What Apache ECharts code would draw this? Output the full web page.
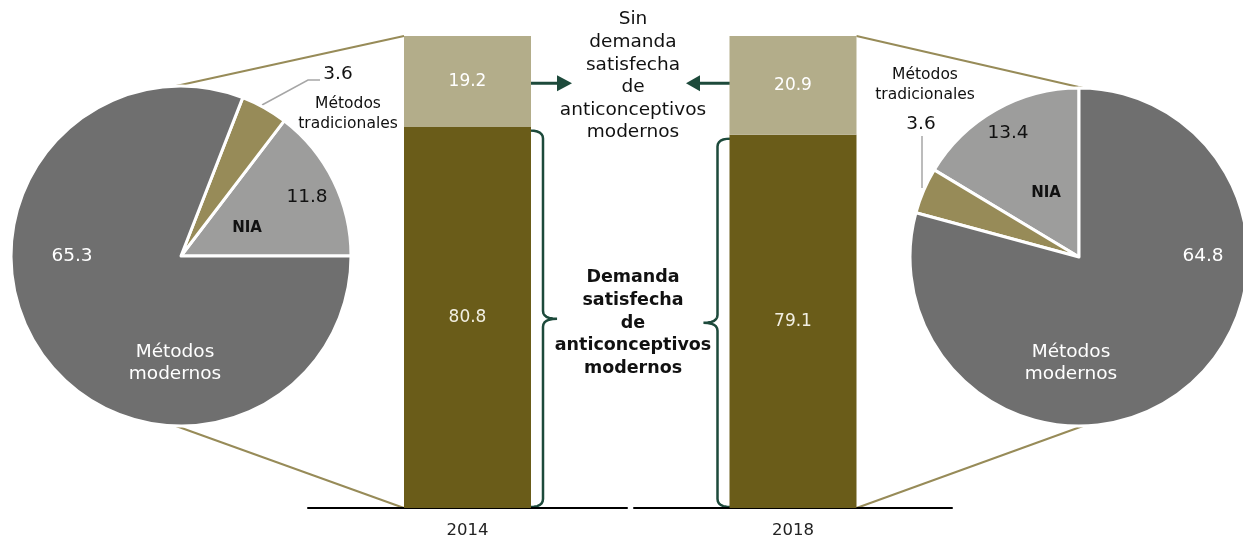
<!DOCTYPE html>
<html>
<head>
<meta charset="utf-8">
<script src="https://cdn.jsdelivr.net/npm/echarts@6/dist/echarts.min.js"></script>
<style>
  html, body { margin: 0; padding: 0; background: #fff; }
  #chart { width: 1243px; height: 541px; }
</style>
</head>
<body>
<div id="chart"></div>
<script>
// data
const years = ["2014", "2018"];
const satisfecha = [80.8, 79.1];
const sinSatisfacer = [19.2, 20.9];
const pieNames = ["NIA", "Métodos tradicionales", "Métodos modernos"];
const pie2014 = [11.8, 3.6, 65.3];
const pie2018 = [13.4, 3.6, 64.8];

const FONT = "DejaVu Sans";
const GREEN = "#1d4a3b";
const OLIVE = "#978b58";
const pieColors = ["#9d9d9c", OLIVE, "#6f6f6f"];
const BAR_W = 127;

const chart = echarts.init(document.getElementById("chart"));

const barSeries = (idx) => [
  {
    type: "bar",
    xAxisIndex: idx,
    yAxisIndex: idx,
    stack: "s" + idx,
    barWidth: BAR_W,
    data: [satisfecha[idx]],
    itemStyle: { color: "#6a5c19" },
    label: {
      show: true,
      position: "inside",
      color: "#f2efe2",
      fontFamily: FONT,
      fontSize: 17,
    },
  },
  {
    type: "bar",
    xAxisIndex: idx,
    yAxisIndex: idx,
    stack: "s" + idx,
    barWidth: BAR_W,
    data: [sinSatisfacer[idx]],
    itemStyle: { color: "#b3ad8a" },
    label: {
      show: true,
      position: "inside",
      color: "#ffffff",
      fontFamily: FONT,
      fontSize: 17,
    },
  },
];

const pieSeries = (values, center, radius, startAngle) => ({
  type: "pie",
  center: center,
  radius: radius,
  startAngle: startAngle,
  clockwise: false,
  silent: true,
  label: { show: false },
  labelLine: { show: false },
  itemStyle: { borderColor: "#fff", borderWidth: 3 },
  data: values.map((v, i) => ({
    name: pieNames[i],
    value: v,
    itemStyle: { color: pieColors[i] },
  })),
});

const axisX = (idx) => ({
  type: "category",
  gridIndex: idx,
  data: [years[idx]],
  axisTick: { show: false },
  axisLine: { lineStyle: { color: "#000", width: 2 } },
  axisLabel: { color: "#222", fontFamily: FONT, fontSize: 16.5, margin: 14 },
});
const axisY = (idx) => ({
  type: "value",
  gridIndex: idx,
  min: 0,
  max: 100,
  show: false,
});

chart.setOption({
  animation: false,
  grid: [
    { left: 308, right: 616, top: 36, bottom: 33 },
    { left: 634, right: 291, top: 36, bottom: 33 },
  ],
  xAxis: [axisX(0), axisX(1)],
  yAxis: [axisY(0), axisY(1)],
  series: [
    ...barSeries(0),
    ...barSeries(1),
    pieSeries(pie2014, [181, 256], 170, 0),
    pieSeries(pie2018, [1079, 257], 169, 90),
  ],
});

// decorations computed from the chart's own scales
const px = (g, v) => chart.convertToPixel({ gridIndex: g }, [0, v]);
const graphics = [];

// connector lines from pies to bars
const b0top = px(0, 100), b0bot = px(0, 0);
const b1top = px(1, 100), b1bot = px(1, 0);
const lineStyle = { stroke: OLIVE, lineWidth: 2 };
[
  [[176, 256 - 170], [b0top[0] - BAR_W / 2, b0top[1]]],
  [[176, 256 + 170], [b0bot[0] - BAR_W / 2, b0bot[1]]],
  [[b1top[0] + BAR_W / 2, b1top[1]], [1083, 257 - 169]],
  [[b1bot[0] + BAR_W / 2, b1bot[1]], [1083, 257 + 169]],
].forEach(([a, b]) => {
  graphics.push({
    type: "line",
    z: -1,
    shape: { x1: a[0], y1: a[1], x2: b[0], y2: b[1] },
    style: lineStyle,
  });
});

// braces, built as polylines with rounded corners
const quad = (p0, c, p1, n) => {
  const pts = [];
  for (let i = 1; i <= n; i++) {
    const t = i / n;
    pts.push([
      (1 - t) * (1 - t) * p0[0] + 2 * (1 - t) * t * c[0] + t * t * p1[0],
      (1 - t) * (1 - t) * p0[1] + 2 * (1 - t) * t * c[1] + t * t * p1[1],
    ]);
  }
  return pts;
};
const brace = (x0, x1, x2, yTop, yBot) => {
  const r = 8;
  const yMid = (yTop + yBot) / 2;
  let pts = [[x0, yTop]];
  pts = pts.concat(quad([x0, yTop], [x1, yTop], [x1, yTop + r], 6));
  pts.push([x1, yMid - r]);
  pts = pts.concat(quad([x1, yMid - r], [x1, yMid], [x2, yMid], 6));
  pts = pts.concat(quad([x2, yMid], [x1, yMid], [x1, yMid + r], 6));
  pts.push([x1, yBot - r]);
  pts = pts.concat(quad([x1, yBot - r], [x1, yBot], [x0, yBot], 6));
  return {
    type: "polyline",
    shape: { points: pts },
    style: { stroke: GREEN, lineWidth: 2.5, fill: null },
  };
};
const s0 = px(0, satisfecha[0]), s1 = px(1, satisfecha[1]);
const r0 = b0bot[0] + BAR_W / 2, l1 = b1bot[0] - BAR_W / 2;
graphics.push(brace(r0 - 1, r0 + 12, r0 + 26, s0[1] + 4, b0bot[1] - 1));
graphics.push(brace(l1 + 1, l1 - 12, l1 - 26, s1[1] + 4, b1bot[1] - 1));

// arrows toward the "Sin demanda" text
const u0 = px(0, satisfecha[0] + sinSatisfacer[0] / 2);
const u1 = px(1, satisfecha[1] + sinSatisfacer[1] / 2);
const ay = (u0[1] + u1[1]) / 2;
graphics.push(
  { type: "line", shape: { x1: r0 - 4, y1: ay, x2: 560, y2: ay }, style: { stroke: GREEN, lineWidth: 3 } },
  { type: "polygon", shape: { points: [[557, ay - 8], [572, ay], [557, ay + 8]] }, style: { fill: GREEN } },
  { type: "line", shape: { x1: l1 + 2, y1: ay, x2: 697, y2: ay }, style: { stroke: GREEN, lineWidth: 3 } },
  { type: "polygon", shape: { points: [[700, ay - 8], [686, ay], [700, ay + 8]] }, style: { fill: GREEN } }
);

// central texts
const txt = (x, y, text, opts) => ({
  type: "text",
  x: x,
  y: y,
  z: 10,
  style: Object.assign(
    {
      text: text,
      fontFamily: FONT,
      fontSize: 18.5,
      fill: "#111",
      align: "center",
      verticalAlign: "middle",
      lineHeight: 22.6,
    },
    opts || {}
  ),
});
graphics.push(
  txt(633, 76, "Sin\ndemanda\nsatisfecha\nde\nanticonceptivos\nmodernos"),
  txt(633, 323, "Demanda\nsatisfecha\nde\nanticonceptivos\nmodernos", {
    fontWeight: "bold",
    fontSize: 17.5,
  })
);

// pie labels
const small = { fontSize: 15.5, lineHeight: 19.5 };
graphics.push(
  txt(72, 256, String(pie2014[2]), { fill: "#fff" }),
  txt(175, 363, "Métodos\nmodernos", { fill: "#fff", lineHeight: 22 }),
  txt(247, 228, pieNames[0], { fontWeight: "bold", fontSize: 15 }),
  txt(307, 197, String(pie2014[0])),
  txt(338, 74, String(pie2014[1])),
  txt(348, 114, "Métodos\ntradicionales", small),
  { type: "polyline", shape: { points: [[262, 105], [308, 80], [320, 80]] }, style: { stroke: "#a6a6a6", lineWidth: 1.5, fill: null } },

  txt(1203, 256, String(pie2018[2]), { fill: "#fff" }),
  txt(1071, 363, "Métodos\nmodernos", { fill: "#fff", lineHeight: 22 }),
  txt(1046, 193, pieNames[0], { fontWeight: "bold", fontSize: 15 }),
  txt(1008, 133, String(pie2018[0])),
  txt(921, 124, String(pie2018[1])),
  txt(925, 85, "Métodos\ntradicionales", small),
  { type: "line", shape: { x1: 922, y1: 136, x2: 922, y2: 188 }, style: { stroke: "#a6a6a6", lineWidth: 1.5 } }
);

chart.setOption({ graphic: graphics });
</script>
</body>
</html>
